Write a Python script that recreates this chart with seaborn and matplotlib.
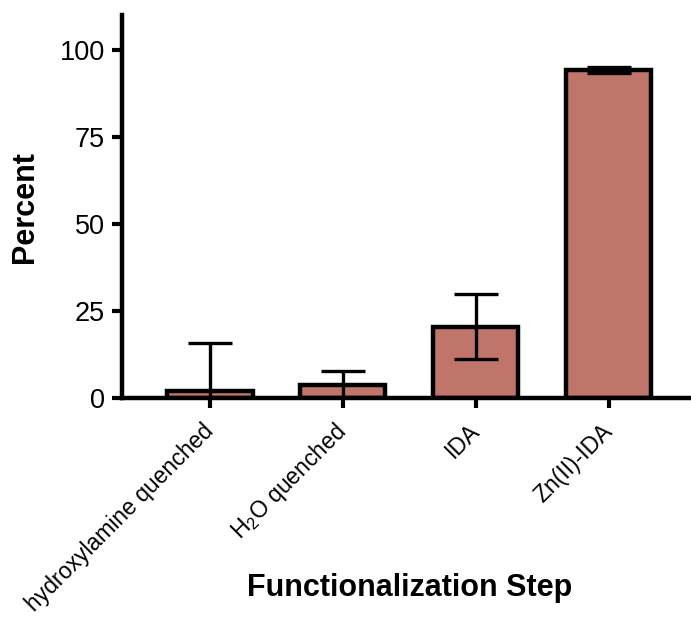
import matplotlib
matplotlib.use("Agg")
import matplotlib.pyplot as plt
import seaborn as sns
import pandas as pd

steps = ["hydroxylamine quenched", "H$_2$O quenched", "IDA", "Zn(II)-IDA"]
percent_mean = [2.0, 3.7, 20.5, 94.3]
percent_sd = [13.8, 4.1, 9.4, 0.8]
y_ticks = [0, 25, 50, 75, 100]

sns.set_style("ticks")
plt.rcParams["font.family"] = ["Liberation Sans", "DejaVu Sans"]
plt.rcParams["mathtext.fontset"] = "custom"
plt.rcParams["mathtext.rm"] = "Liberation Sans"
plt.rcParams["mathtext.default"] = "regular"
plt.rcParams["text.color"] = "black"
plt.rcParams["axes.labelcolor"] = "black"

df = pd.DataFrame({"step": steps, "percent": percent_mean, "sd": percent_sd})

fig = plt.figure(figsize=(6.91, 6.17), dpi=100)
ax = fig.add_axes([0.177, 0.355, 0.823, 0.62])

sns.barplot(data=df, x="step", y="percent", color="#C0756B", saturation=1,
            width=0.64, edgecolor="black", linewidth=3.2, errorbar=None, ax=ax)
ax.errorbar(range(len(steps)), df["percent"], yerr=df["sd"], fmt="none",
            ecolor="black", elinewidth=2.4, capsize=16, capthick=2.4, zorder=5)

ax.set_xlim(-0.66, 3.62)
ax.set_ylim(0, 110)
ax.set_yticks(y_ticks)
ax.tick_params(axis="both", direction="out", length=7.5, width=3, labelsize=19.5,
               colors="black")
ax.tick_params(axis="y", pad=5)
ax.tick_params(axis="x", pad=14)
ax.set_xticks(range(len(steps)))
ax.set_xticklabels(steps, rotation=45, ha="right", va="center",
                   rotation_mode="anchor", fontsize=16.5)

for side in ["top", "right"]:
    ax.spines[side].set_visible(False)
for side in ["left", "bottom"]:
    ax.spines[side].set_linewidth(3.2)
    ax.spines[side].set_color("black")

ax.set_ylabel("Percent", fontsize=22, fontweight="bold", labelpad=14)
ax.set_xlabel("Functionalization Step", fontsize=22, fontweight="bold")
ax.xaxis.set_label_coords(0.506, -0.457)

fig.savefig("out.png", dpi=100)
